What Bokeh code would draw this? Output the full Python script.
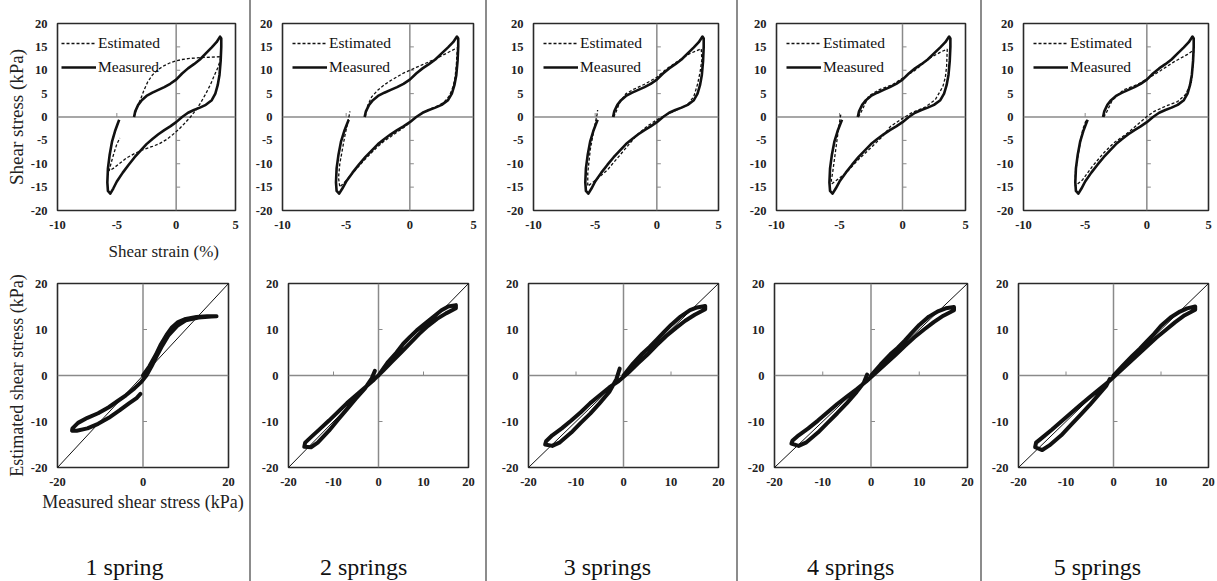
import math
from bokeh.plotting import figure
from bokeh.layouts import row, column
from bokeh.models import Span, Legend, LegendItem, FixedTicker, Div, Range1d, Title
from bokeh.core.properties import value
from bokeh.embed import file_html
from bokeh.resources import INLINE

FONT = "Liberation Serif"

# ---------------- data ----------------
captions = ["1 spring", "2 springs", "3 springs", "4 springs", "5 springs"]

# measured stress-strain loop (same in every top panel)
meas_strain = [-3.55, -3.45, -3.2, -2.9, -2.5, -2.0, -1.5, -1.0, -0.5, 0.0, 0.5, 1.0, 1.5, 2.0, 2.5, 3.0, 3.4, 3.7,
               3.8, 3.8, 3.75, 3.65, 3.5, 3.3, 3.0, 2.5, 2.0, 1.5, 1.0, 0.5, 0.0, -0.5, -1.0, -1.5, -2.0, -2.5, -3.0,
               -3.5, -4.0, -4.5, -5.0, -5.3, -5.55, -5.75, -5.8, -5.75, -5.6, -5.4, -5.15, -4.95, -4.8]
meas_stress = [0.0, 1.2, 2.6, 3.6, 4.5, 5.2, 5.8, 6.4, 7.1, 8.0, 9.3, 10.4, 11.3, 12.3, 13.6, 14.9, 16.0, 17.2,
               16.8, 15.0, 12.0, 9.0, 6.8, 5.0, 3.6, 2.6, 2.0, 1.5, 0.9, 0.0, -1.1, -2.0, -2.8, -3.7, -4.7, -5.8, -7.2,
               -8.6, -10.2, -11.9, -13.8, -15.3, -16.4, -15.8, -14.0, -11.0, -8.0, -5.2, -3.0, -1.6, -0.6]

# estimated loops, 1..5 springs
est1_strain = [-3.55, -3.3, -3.0, -2.7, -2.4, -2.0, -1.5, -1.0, -0.5, 0.0, 0.5, 1.0, 2.0, 3.0, 3.75, 3.7, 3.5, 3.2,
               2.9, 2.5, 2.1, 1.7, 1.2, 0.7, 0.2, -0.3, -0.8, -1.4, -2.0, -2.8, -3.5, -4.2, -4.8, -5.3, -5.65, -5.5,
               -5.25, -5.0, -4.75]
est1_stress = [0.0, 2.0, 3.8, 5.8, 7.5, 9.0, 10.2, 11.0, 11.6, 12.0, 12.3, 12.5, 12.7, 12.8, 12.9, 12.0, 10.5, 8.8,
               7.0, 5.0, 3.2, 1.6, 0.0, -1.4, -2.7, -3.8, -4.8, -5.7, -6.3, -7.0, -7.8, -8.8, -10.0, -11.0, -11.5,
               -10.0, -7.8, -5.8, -4.5]

est2_strain = [-3.5, -3.3, -3.0, -2.5, -2.0, -1.5, -1.0, -0.5, 0.0, 0.5, 1.0, 1.5, 2.0, 2.5, 3.0, 3.5, 3.75, 3.7,
               3.65, 3.55, 3.4, 3.1, 2.7, 2.2, 1.6, 1.0, 0.5, 0.0, -0.5, -1.0, -1.5, -2.0, -2.5, -3.0, -3.5, -4.0,
               -4.5, -5.0, -5.5, -5.6, -5.5, -5.3, -5.1, -4.9, -4.7]
est2_stress = [0.0, 2.5, 4.3, 5.8, 6.9, 7.8, 8.6, 9.4, 10.0, 10.6, 11.2, 11.8, 12.4, 13.1, 13.8, 14.5, 14.8, 13.5,
               11.0, 8.5, 6.5, 4.5, 3.2, 2.4, 1.7, 0.9, 0.0, -1.2, -2.3, -3.2, -4.2, -5.1, -6.3, -7.6, -9.0, -10.5,
               -12.0, -13.6, -15.0, -13.0, -10.0, -7.0, -4.0, -1.5, 1.2]

est3_strain = [-3.5, -3.35, -3.0, -2.5, -1.9, -1.0, 0.0, 0.8, 1.9, 2.7, 3.6, 3.65, 3.5, 3.3, 3.0, 2.5, 1.6, 0.8,
               0.0, -0.8, -1.6, -2.4, -3.2, -4.0, -5.1, -5.6, -5.6, -5.4, -5.1, -4.85, -4.8]
est3_stress = [0.0, 0.8, 3.2, 5.0, 5.9, 7.0, 8.5, 10.3, 12.3, 13.6, 14.6, 12.2, 9.5, 7.0, 4.4, 2.6, 1.5, 0.5,
               -0.6, -2.0, -3.8, -6.3, -8.8, -11.3, -13.8, -14.8, -12.0, -7.0, -2.7, 0.5, 1.5]

est4_strain = [-3.5, -3.2, -2.7, -1.9, -0.8, 0.0, 1.0, 2.1, 3.1, 3.55, 3.5, 3.4, 3.2, 2.6, 1.8, 0.8, 0.0, -0.95,
               -1.6, -2.4, -3.5, -4.5, -5.6, -5.65, -5.55, -5.3, -5.05, -4.9]
est4_stress = [0.0, 1.5, 4.4, 5.8, 6.9, 8.3, 10.0, 12.5, 14.0, 14.5, 10.8, 8.5, 6.5, 3.7, 2.1, 1.0, -0.3, -2.0,
               -4.2, -6.3, -9.1, -12.0, -14.3, -13.5, -12.0, -7.0, -2.0, 0.5]

est5_strain = [-3.5, -3.3, -2.8, -1.9, -0.8, 0.0, 1.1, 2.2, 3.3, 3.8, 3.75, 3.6, 3.1, 2.5, 1.6, 0.6, 0.0, -0.8,
               -1.6, -2.7, -3.5, -4.4, -5.2, -5.6, -5.8, -5.8, -5.5, -5.2, -4.9]
est5_stress = [0.0, 0.8, 3.6, 5.8, 6.9, 8.1, 9.9, 11.8, 13.4, 14.3, 11.5, 7.2, 4.7, 3.3, 2.4, 1.2, 0.1, -1.7,
               -3.5, -5.6, -7.7, -10.5, -13.4, -14.3, -14.8, -12.0, -7.0, -2.7, -0.5]

# estimated vs measured shear stress (bottom panels)
bot_meas_1 = [0, 1.5, 3.0, 4.2, 5.5, 6.8, 8.2, 10.0, 12.5, 15.0, 17.2, 16.0, 13.0, 10.0, 8.0, 6.0, 4.5, 3.2, 2.0,
              0.8, -0.5, -2.0, -4.0, -6.0, -8.0, -10.5, -13.0, -15.2, -16.5, -16.6, -15.5, -13.0, -10.5, -8.0,
              -5.5, -3.2, -1.5, -0.6]
bot_est_1 = [0, 2.0, 4.5, 6.8, 8.8, 10.5, 11.6, 12.3, 12.7, 12.9, 12.9, 12.8, 12.6, 12.0, 10.8, 8.8, 6.5, 4.2, 2.0,
             0.0, -1.5, -2.8, -4.3, -5.6, -6.9, -8.2, -9.2, -10.3, -11.5, -12.0, -12.0, -11.5, -10.5, -9.2, -7.6,
             -6.0, -4.9, -4.0]
bot_meas = [0, 2.0, 4.0, 5.5, 7.0, 8.5, 10.0, 12.0, 14.0, 15.5, 17.2, 17.2, 15.0, 13.0, 11.0, 9.0, 7.0, 5.0, 3.0,
            1.0, -1.0, -3.0, -5.0, -7.0, -9.0, -11.0, -13.0, -15.0, -16.3, -16.5, -15.0, -13.5, -11.0, -9.0, -7.0,
            -5.0, -3.0, -1.5, -0.8]
bot_est_2 = [0, 2.8, 5.0, 6.9, 8.4, 9.8, 11.0, 12.6, 14.2, 15.0, 15.3, 14.6, 13.5, 12.3, 10.8, 9.0, 7.0, 5.0, 3.0,
             1.0, -0.9, -2.6, -4.3, -6.0, -7.9, -9.8, -11.6, -13.4, -14.6, -15.5, -15.6, -14.6, -12.0, -9.6, -7.3,
             -5.0, -2.8, -0.6, 1.0]
bot_est_3 = [0, 2.6, 4.8, 6.2, 7.8, 9.4, 11.0, 12.8, 14.2, 14.8, 15.1, 14.4, 13.2, 11.9, 10.3, 8.6, 6.6, 4.5, 2.6,
             0.6, -1.2, -2.6, -4.3, -6.0, -8.0, -9.8, -11.5, -13.0, -14.3, -15.0, -15.3, -14.6, -12.4, -10.3, -8.3,
             -6.0, -3.6, -0.8, 1.5]
bot_est_4 = [0, 2.4, 4.6, 6.0, 7.6, 9.3, 11.0, 12.8, 14.0, 14.6, 14.9, 14.2, 13.0, 11.6, 10.0, 8.3, 6.4, 4.4, 2.5,
             0.6, -1.3, -3.0, -4.6, -6.2, -8.0, -9.8, -11.5, -13.0, -14.2, -14.8, -15.3, -14.6, -12.4, -10.3, -8.2,
             -6.0, -3.6, -1.6, 0.2]
bot_est_5 = [0, 2.2, 4.3, 5.8, 7.4, 9.0, 10.8, 12.6, 13.9, 14.6, 15.0, 14.3, 13.1, 11.6, 9.9, 8.2, 6.3, 4.4, 2.5,
             0.6, -1.3, -3.0, -4.7, -6.4, -8.2, -10.0, -11.8, -13.5, -14.6, -15.6, -16.2, -15.2, -13.0, -10.8, -8.6,
             -6.4, -4.0, -2.2, -0.8]

diag = [-20, 20]

top_xticks = [-10, -5, 0, 5]
top_yticks = [-20, -15, -10, -5, 0, 5, 10, 15, 20]
top_zero_yticks = [-15, -10, -5, 5, 10, 15]
top_zero_xticks = [-5]
bot_ticks = [-20, -10, 0, 10, 20]
bot_xticks_first = [-20, 0, 20]
bot_zero_ticks = [-10, 10]

est_series = [(est1_strain, est1_stress), (est2_strain, est2_stress), (est3_strain, est3_stress),
              (est4_strain, est4_stress), (est5_strain, est5_stress)]
bot_series = [(bot_meas_1, bot_est_1), (bot_meas, bot_est_2), (bot_meas, bot_est_3),
              (bot_meas, bot_est_4), (bot_meas, bot_est_5)]

# ---------------- layout geometry ----------------
col_widths = [249, 234, 249, 242, 235]
top_borders = [(57, 14), (31, 12), (46, 18), (38, 15), (41, 9)]
bot_borders = [(57, 21), (37, 17), (41, 18), (36, 13), (36, 9)]
caption_x = [-4.3, -3.3, -3.4, -4.2, -3.4]   # caption centre, in the bottom panel's x units
TOP_H, BOT_H, CAP_H = 270, 270, 41
CAPTION_Y = 15                               # caption centre, px above the page bottom
PAGE_H = TOP_H + BOT_H + CAP_H
ZERO_COL = "#8a8a8a"
INK = "#111111"


def style_axes(p, xt, yt):
    for ax, ticks in ((p.xaxis[0], xt), (p.yaxis[0], yt)):
        ax.ticker = FixedTicker(ticks=ticks)
        ax.major_label_overrides = {t: str(t) for t in ticks}
        ax.axis_line_color = None
        ax.major_tick_line_color = None
        ax.minor_tick_line_color = None
        ax.major_label_text_font = FONT
        ax.major_label_text_font_size = "12.5px"
        ax.major_label_text_font_style = "bold"
        ax.major_label_text_color = "#222222"
        ax.major_label_standoff = 4
        ax.axis_label_text_font = FONT
        ax.axis_label_text_font_style = "normal"
        ax.axis_label_text_color = "#222222"
    p.xgrid.visible = False
    p.ygrid.visible = False
    p.outline_line_color = "#2a2a2a"
    p.outline_line_width = 1.6
    p.add_layout(Span(location=0, dimension="height", line_color=ZERO_COL, line_width=1.5, level="underlay"))
    p.add_layout(Span(location=0, dimension="width", line_color=ZERO_COL, line_width=1.5, level="underlay"))


columns = []
for i in range(5):
    w = col_widths[i]
    # ---------- top panel ----------
    lb, rb = top_borders[i]
    pt = figure(width=w, height=TOP_H, min_border_left=lb, min_border_right=rb, min_border_top=23,
                min_border_bottom=60, x_range=Range1d(-10, 5), y_range=Range1d(-20, 20),
                output_backend="svg", toolbar_location=None, margin=0)
    style_axes(pt, top_xticks, top_yticks)
    pt.ray(x=[0] * len(top_zero_yticks), y=top_zero_yticks, length=4, length_units="screen", angle=0,
           line_color=ZERO_COL, line_width=1, level="underlay")
    pt.ray(x=top_zero_xticks, y=[0] * len(top_zero_xticks), length=4, length_units="screen", angle=math.pi / 2,
           line_color=ZERO_COL, line_width=1, level="underlay")
    ex, ey = est_series[i]
    r_est = pt.line(ex, ey, line_color=INK, line_width=1.3, line_dash="3 2")
    r_meas = pt.line(meas_strain, meas_stress, line_color=INK, line_width=2.6, line_join="round")
    leg = Legend(items=[LegendItem(label="Estimated", renderers=[r_est]),
                        LegendItem(label="Measured", renderers=[r_meas])],
                 location="top_left", border_line_color=None, background_fill_alpha=0,
                 label_text_font=FONT, label_text_font_size="15.5px", label_text_color=INK,
                 glyph_width=35, glyph_height=20, label_height=20, spacing=4, padding=0,
                 margin=10, label_standoff=2)
    if i == 0:
        leg.location = (4, 133)
        leg.margin = 0
    pt.add_layout(leg)
    if i == 0:
        pt.yaxis.axis_label = "Shear stress (kPa)"
        pt.yaxis.axis_label_text_font_size = "19px"
        pt.yaxis.axis_label_standoff = 1
        pt.add_layout(Title(text="Shear strain (%)", align="left", offset=51, standoff=16,
                            text_font=FONT, text_font_size="17px", text_font_style="normal",
                            text_color="#222222"), "below")

    # ---------- bottom panel ----------
    lb, rb = bot_borders[i]
    pb = figure(width=w, height=BOT_H, min_border_left=lb, min_border_right=rb, min_border_top=13,
                min_border_bottom=73, x_range=Range1d(-20, 20), y_range=Range1d(-20, 20),
                output_backend="svg", toolbar_location=None, margin=0)
    style_axes(pb, bot_xticks_first if i == 0 else bot_ticks, bot_ticks)
    pb.ray(x=[0] * len(bot_zero_ticks), y=bot_zero_ticks, length=4, length_units="screen", angle=0,
           line_color=ZERO_COL, line_width=1, level="underlay")
    if i > 0:
        pb.ray(x=bot_zero_ticks, y=[0] * len(bot_zero_ticks), length=4, length_units="screen",
               angle=math.pi / 2, line_color=ZERO_COL, line_width=1, level="underlay")
    pb.line(diag, diag, line_color=INK, line_width=1)
    bx, by = bot_series[i]
    pb.line(bx, by, line_color=INK, line_width=4, line_join="round", line_cap="round")
    if i == 0:
        pb.yaxis.axis_label = "Estimated shear stress (kPa)"
        pb.yaxis.axis_label_text_font_size = "18px"
        pb.yaxis.axis_label_standoff = 1
        pb.xaxis.axis_label = "Measured shear stress (kPa)"
        pb.xaxis.axis_label_text_font_size = "18px"
        pb.xaxis.axis_label_standoff = 3

    # ---------- caption strip (same frame width as the bottom panel) ----------
    pc = figure(width=w, height=CAP_H, min_border_left=lb, min_border_right=rb, min_border_top=0,
                min_border_bottom=0, x_range=Range1d(-20, 20), y_range=Range1d(0, CAP_H),
                x_axis_location=None, y_axis_location=None, output_backend="svg",
                toolbar_location=None, margin=0)
    pc.xgrid.visible = False
    pc.ygrid.visible = False
    pc.outline_line_color = None
    pc.text(x=[caption_x[i]], y=[CAPTION_Y], text=[captions[i]], text_align="center",
            text_baseline="middle", text_font=value(FONT), text_font_size=value("24px"),
            text_color=INK)

    columns.append(column(row(pt, margin=0), column(pb, pc, spacing=0, margin=0), spacing=0, margin=0))

children = []
for i, c in enumerate(columns):
    children.append(c)
    if i < 4:
        children.append(Div(text="", width=2, height=PAGE_H, margin=0,
                            styles={"background-color": "#8c8c8c"}))

layout = row(children, spacing=0, margin=0)
open("out.html", "w").write(file_html(layout, INLINE, title="springs"))
